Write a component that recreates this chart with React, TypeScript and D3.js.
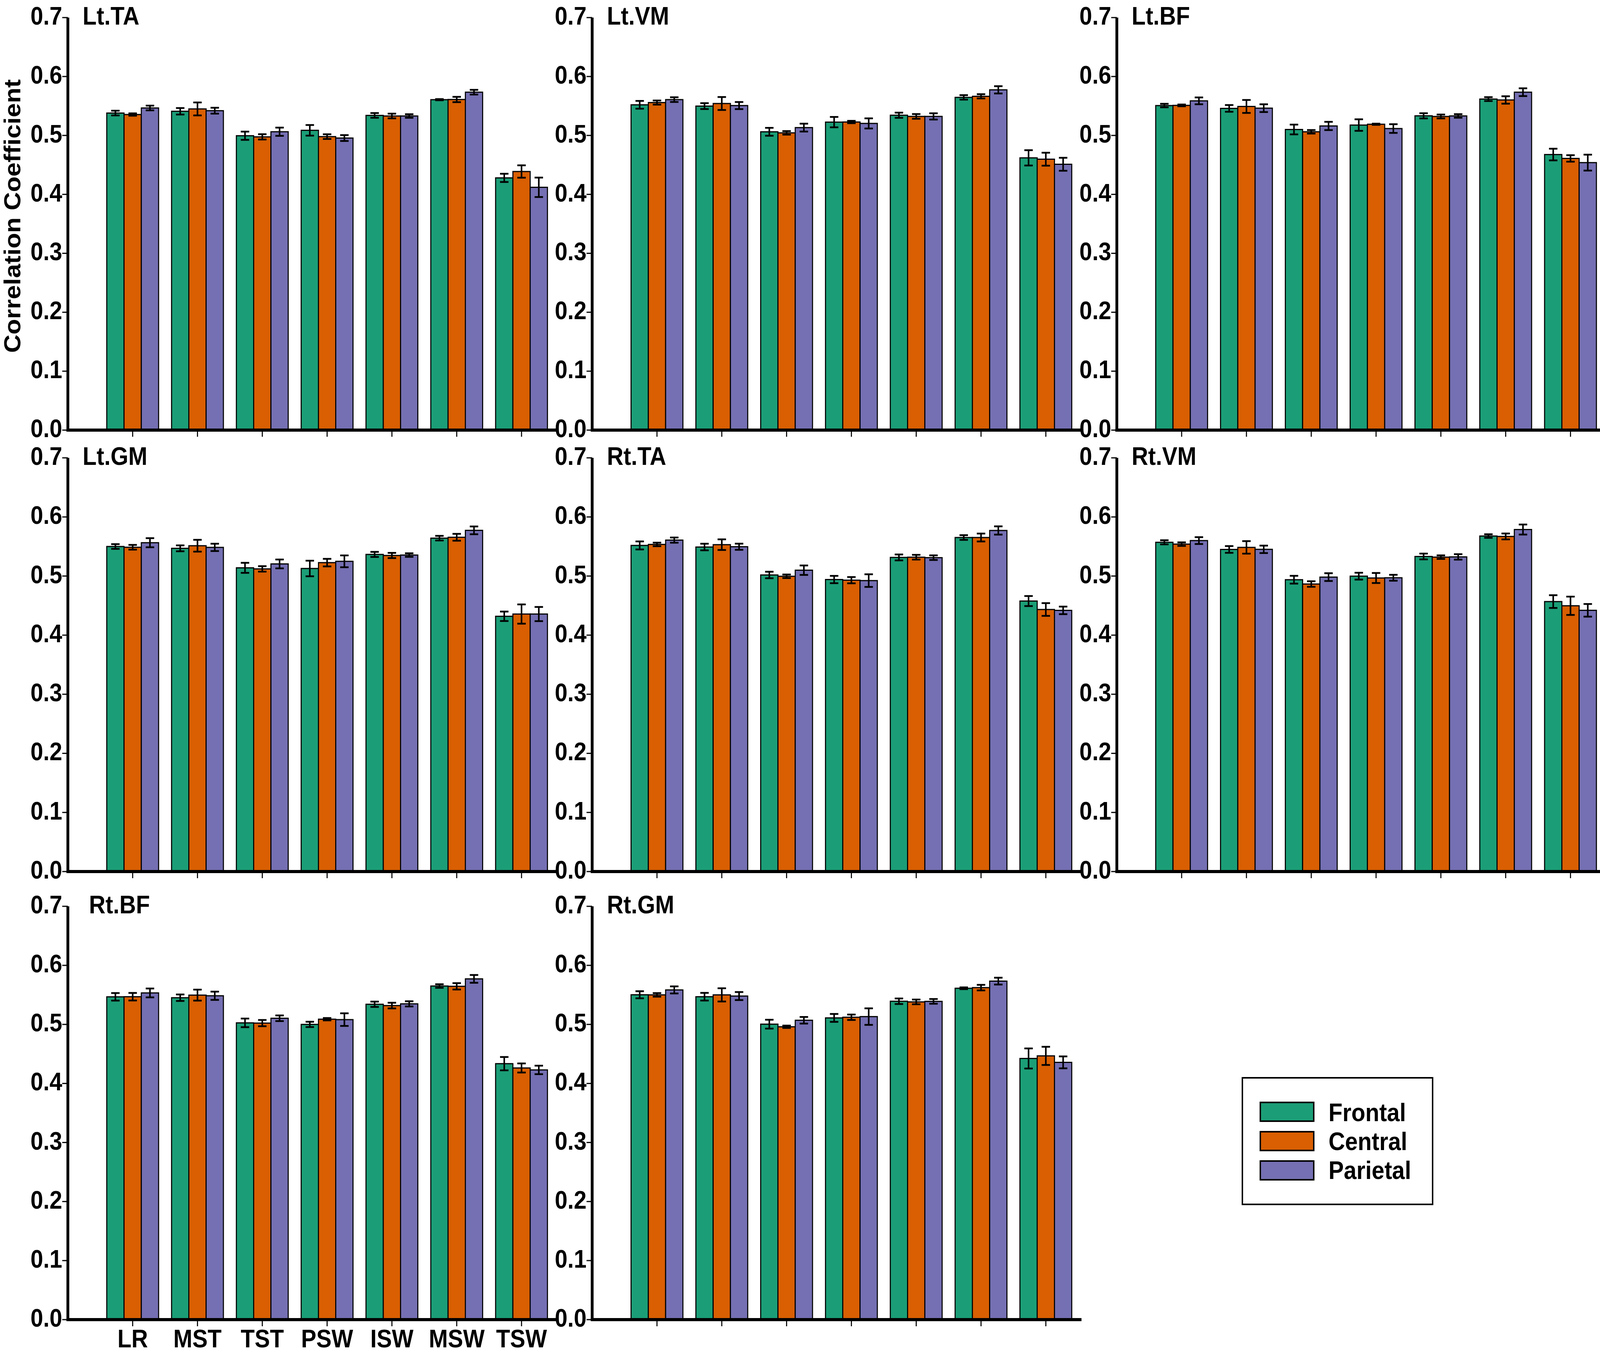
import React from "react";
import * as d3 from "d3";

// ---------- data ----------
const categories = ["LR", "MST", "TST", "PSW", "ISW", "MSW", "TSW"];
const regions = ["Frontal", "Central", "Parietal"];
const regionColors = ["#1b9e77", "#d95f02", "#7570b3"];
const panelNames = ["Lt.TA", "Lt.VM", "Lt.BF", "Lt.GM", "Rt.TA", "Rt.VM", "Rt.BF", "Rt.GM"];
const yTicks = [0, 0.1, 0.2, 0.3, 0.4, 0.5, 0.6, 0.7];

// means: [Frontal[], Central[], Parietal[]] over categories
const ltTAMean = [
  [0.538, 0.541, 0.4995, 0.5087, 0.534, 0.5607, 0.428],
  [0.5355, 0.545, 0.4976, 0.498, 0.533, 0.561, 0.4388],
  [0.5466, 0.542, 0.5063, 0.4956, 0.533, 0.5734, 0.412],
];
const ltTAErr = [
  [0.004, 0.0055, 0.007, 0.009, 0.004, 0.001, 0.007],
  [0.002, 0.011, 0.0045, 0.004, 0.004, 0.0045, 0.0105],
  [0.004, 0.005, 0.007, 0.005, 0.003, 0.004, 0.0165],
];
const ltVMMean = [
  [0.552, 0.5498, 0.5062, 0.5226, 0.5343, 0.5646, 0.462],
  [0.5558, 0.5542, 0.5044, 0.5228, 0.5323, 0.5664, 0.4597],
  [0.5608, 0.5507, 0.5133, 0.5204, 0.5323, 0.5774, 0.4511],
];
const ltVMErr = [
  [0.0066, 0.005, 0.0067, 0.0088, 0.0044, 0.0038, 0.013],
  [0.0035, 0.011, 0.003, 0.002, 0.004, 0.0036, 0.011],
  [0.004, 0.006, 0.0067, 0.0086, 0.0053, 0.0062, 0.011],
];
const ltBFMean = [
  [0.5507, 0.5459, 0.5101, 0.5176, 0.5333, 0.5617, 0.4676],
  [0.551, 0.5492, 0.5062, 0.519, 0.5322, 0.5602, 0.461],
  [0.5587, 0.5463, 0.5161, 0.5117, 0.5331, 0.5734, 0.4539],
];
const ltBFErr = [
  [0.003, 0.0057, 0.0083, 0.0098, 0.0044, 0.0033, 0.0099],
  [0.0015, 0.011, 0.003, 0.001, 0.0033, 0.0063, 0.0055],
  [0.0058, 0.0066, 0.007, 0.0074, 0.003, 0.0066, 0.0135],
];
const ltGMMean = [
  [0.55, 0.5469, 0.5139, 0.5128, 0.5366, 0.5641, 0.4319],
  [0.5487, 0.5513, 0.5121, 0.5227, 0.5348, 0.5656, 0.4357],
  [0.5564, 0.5485, 0.5205, 0.5249, 0.5355, 0.5773, 0.4357],
];
const ltGMErr = [
  [0.004, 0.005, 0.0085, 0.0132, 0.0043, 0.0039, 0.008],
  [0.004, 0.01, 0.0046, 0.0064, 0.0044, 0.0058, 0.0163],
  [0.0077, 0.0062, 0.0075, 0.01, 0.003, 0.0066, 0.012],
];
const rtTAMean = [
  [0.5518, 0.5491, 0.5018, 0.4941, 0.5315, 0.5652, 0.4577],
  [0.5535, 0.5531, 0.4996, 0.493, 0.5319, 0.5652, 0.4434],
  [0.5608, 0.5496, 0.5099, 0.4923, 0.5311, 0.5771, 0.4419],
];
const rtTAErr = [
  [0.0068, 0.0056, 0.0055, 0.0062, 0.005, 0.004, 0.0085],
  [0.003, 0.009, 0.003, 0.0053, 0.004, 0.0067, 0.0108],
  [0.0044, 0.0052, 0.008, 0.0107, 0.0039, 0.007, 0.0064],
];
const rtVMMean = [
  [0.5571, 0.545, 0.4938, 0.4998, 0.5331, 0.5677, 0.4568],
  [0.554, 0.5485, 0.4865, 0.4967, 0.532, 0.567, 0.4497],
  [0.56, 0.5452, 0.4982, 0.4971, 0.5324, 0.5787, 0.442],
];
const rtVMErr = [
  [0.0035, 0.0057, 0.0066, 0.0058, 0.0049, 0.003, 0.0108],
  [0.003, 0.0106, 0.0047, 0.0085, 0.003, 0.005, 0.0155],
  [0.0058, 0.0063, 0.0066, 0.005, 0.0046, 0.0085, 0.0107],
];
const rtBFMean = [
  [0.5467, 0.5452, 0.5026, 0.5, 0.5341, 0.565, 0.4335],
  [0.5469, 0.5496, 0.5022, 0.5088, 0.5319, 0.5645, 0.4262],
  [0.5533, 0.5485, 0.5104, 0.5081, 0.5348, 0.5771, 0.4229],
];
const rtBFErr = [
  [0.0064, 0.0055, 0.0073, 0.0045, 0.0045, 0.003, 0.0113],
  [0.0064, 0.0093, 0.0053, 0.002, 0.0048, 0.0054, 0.0077],
  [0.0075, 0.007, 0.0048, 0.0107, 0.0044, 0.0066, 0.0072],
];
const rtGMMean = [
  [0.5502, 0.5469, 0.5004, 0.511, 0.5392, 0.5612, 0.4423],
  [0.55, 0.55, 0.496, 0.5121, 0.5381, 0.5623, 0.4467],
  [0.5584, 0.548, 0.507, 0.5132, 0.539, 0.5733, 0.4357],
];
const rtGMErr = [
  [0.006, 0.0065, 0.0075, 0.0067, 0.0047, 0.0015, 0.017],
  [0.003, 0.0112, 0.002, 0.0046, 0.004, 0.0047, 0.0154],
  [0.006, 0.0068, 0.0056, 0.014, 0.004, 0.0058, 0.0101],
];

const panelMeans = [ltTAMean, ltVMMean, ltBFMean, ltGMMean, rtTAMean, rtVMMean, rtBFMean, rtGMMean];
const panelErrs = [ltTAErr, ltVMErr, ltBFErr, ltGMErr, rtTAErr, rtVMErr, rtBFErr, rtGMErr];

// ---------- layout ----------
const W = 4550;
const H = 3466;
const colX = [193, 1684, 3176];
const rowTop = [45, 1172, 2320];
const rowZero = [1101, 2231, 3378];
const STEP = 184.3;
const AXIS_LEN = 7.55 * STEP;
const FONT = "'Liberation Sans', Arial, Helvetica, sans-serif";
const FS = 65;

function Panel({ idx }: { idx: number }) {
  const col = idx % 3;
  const row = Math.floor(idx / 3);
  const x0 = colX[col];
  const yTop = rowTop[row];
  const yZero = rowZero[row];
  const means = panelMeans[idx];
  const errs = panelErrs[idx];

  const y = d3.scaleLinear().domain([0, 0.7]).range([yZero, yTop]);
  const x = d3
    .scaleBand<string>()
    .domain(categories)
    .range([x0 + STEP * 0.5, x0 + STEP * 7.5])
    .paddingInner(0.2)
    .paddingOuter(0.1);
  const x1 = d3.scaleBand<string>().domain(regions).range([0, x.bandwidth()]);
  const capW = 24;

  const showXLabels = idx === 6;
  const showYLabel = idx === 0;

  return (
    <g>
      {/* bars */}
      {categories.map((c, ci) =>
        regions.map((r, ri) => {
          const v = means[ri][ci];
          const bx = (x(c) as number) + (x1(r) as number);
          return (
            <rect
              key={`b-${c}-${r}`}
              x={bx}
              y={y(v)}
              width={x1.bandwidth()}
              height={y(0) - y(v)}
              fill={regionColors[ri]}
              stroke="#000"
              strokeWidth={3}
            />
          );
        })
      )}
      {/* error bars */}
      {categories.map((c, ci) =>
        regions.map((r, ri) => {
          const v = means[ri][ci];
          const e = errs[ri][ci];
          const cx = (x(c) as number) + (x1(r) as number) + x1.bandwidth() / 2;
          return (
            <g key={`e-${c}-${r}`} stroke="#000" strokeWidth={4.5}>
              <line x1={cx} x2={cx} y1={y(v + e)} y2={y(v - e)} />
              <line x1={cx - capW / 2} x2={cx + capW / 2} y1={y(v + e)} y2={y(v + e)} />
              <line x1={cx - capW / 2} x2={cx + capW / 2} y1={y(v - e)} y2={y(v - e)} />
            </g>
          );
        })
      )}
      {/* y axis */}
      <line x1={x0} x2={x0} y1={y(0.7)} y2={y(0) + 4} stroke="#000" strokeWidth={8} />
      {yTicks.map((t) => (
        <g key={`yt-${t}`}>
          <line x1={x0 - 16} x2={x0} y1={y(t)} y2={y(t)} stroke="#000" strokeWidth={3} />
          <text
            x={x0 - 16}
            y={y(t) + 18}
            textAnchor="end"
            fontFamily={FONT}
            fontWeight="bold"
            fontSize={FS}
            fill="#000"
          >
            {d3.format(".1f")(t)}
          </text>
        </g>
      ))}
      {/* x axis */}
      <line x1={x0 - 4} x2={x0 + AXIS_LEN} y1={y(0)} y2={y(0)} stroke="#000" strokeWidth={8} />
      {categories.map((c) => {
        const cx = (x(c) as number) + x.bandwidth() / 2;
        return (
          <g key={`xt-${c}`}>
            <line x1={cx} x2={cx} y1={y(0) + 4} y2={y(0) + 17} stroke="#000" strokeWidth={3} />
            {showXLabels && (
              <text
                x={cx}
                y={y(0) + 71}
                textAnchor="middle"
                fontFamily={FONT}
                fontWeight="bold"
                fontSize={FS}
                fill="#000"
              >
                {c}
              </text>
            )}
          </g>
        );
      })}
      {/* panel title */}
      <text
        x={x0 + (idx === 6 ? 60 : 42)}
        y={y(0.7) + 18}
        fontFamily={FONT}
        fontWeight="bold"
        fontSize={FS}
        fill="#000"
      >
        {panelNames[idx]}
      </text>
      {showYLabel && (
        <text
          transform={`translate(58, ${(y(0) + y(0.7)) / 2 - 20}) rotate(-90)`}
          textAnchor="middle"
          fontFamily={FONT}
          fontWeight="bold"
          fontSize={FS}
          fill="#000"
        >
          Correlation Coefficient
        </text>
      )}
    </g>
  );
}

function Legend() {
  const lx = 3533;
  const ly = 2759;
  return (
    <g>
      <rect x={lx} y={ly} width={541} height={324} fill="#fff" stroke="#000" strokeWidth={4} />
      {regions.map((r, i) => (
        <g key={r}>
          <rect
            x={3584}
            y={2822 + i * 75}
            width={152}
            height={48}
            fill={regionColors[i]}
            stroke="#000"
            strokeWidth={4}
          />
          <text
            x={3778}
            y={2870 + i * 74}
            fontFamily={FONT}
            fontWeight="bold"
            fontSize={FS}
            fill="#000"
          >
            {r}
          </text>
        </g>
      ))}
    </g>
  );
}

export default function App() {
  return (
    <svg
      viewBox={`0 0 ${W} ${H}`}
      preserveAspectRatio="none"
      style={{
        position: "fixed",
        left: 0,
        top: 0,
        width: "100vw",
        height: "100vh",
        display: "block",
        background: "#fff",
      }}
    >
      <rect x={0} y={0} width={W} height={H} fill="#fff" />
      {panelNames.map((_, i) => (
        <Panel key={i} idx={i} />
      ))}
      <Legend />
    </svg>
  );
}
